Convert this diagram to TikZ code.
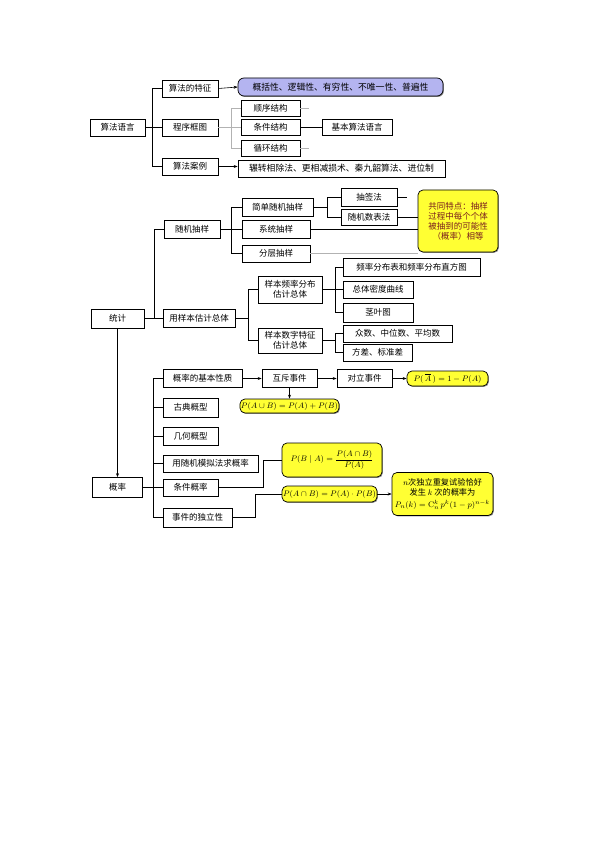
\documentclass[tikz,border=0pt]{standalone}
\usepackage[no-math]{fontspec}
\setmainfont{Noto Sans CJK SC}
\usetikzlibrary{shadows,arrows.meta}
\definecolor{ylw}{HTML}{FFFF33}
\definecolor{lav}{HTML}{B4B4F0}
\definecolor{dred}{HTML}{7A1E1E}
\begin{document}
\begin{tikzpicture}[x=1pt,y=-1pt,
  bx/.style={draw=black, line width=0.7pt, fill=white, inner sep=1pt,
    font=\fontsize{8.5}{10}\selectfont, align=center,
    drop shadow={shadow xshift=0.9pt, shadow yshift=-0.9pt, fill=black!45, opacity=1}},
  yb/.style={bx, fill=ylw, rounded corners=5pt},
  pb/.style={bx, fill=lav, rounded corners=6pt},
  ln/.style={line width=0.6pt, draw=black},
  gl/.style={line width=0.6pt, draw=gray!60},
  ar/.style={ln, -{Stealth[length=4pt,width=3pt]}}]
\fill[white] (0,0) rectangle (595,842);
\useasboundingbox (0,0) rectangle (595,842);

% ---------- section 1: algorithm ----------
\node[bx, minimum width=55pt, minimum height=17pt] (alg) at (117.5,127.5) {算法语言};
\node[bx, minimum width=56pt, minimum height=17pt] (feat) at (190,88.5) {算法的特征};
\node[pb, minimum width=205pt, minimum height=18pt, font=\fontsize{8.8}{10}\selectfont] (featv) at (340.5,87) {概括性、逻辑性、有穷性、不唯一性、普遍性};
\node[bx, minimum width=56pt, minimum height=17pt] (flow) at (190,127.5) {程序框图};
\node[bx, minimum width=59pt, minimum height=16pt] (seq) at (270.5,108) {顺序结构};
\node[bx, minimum width=59pt, minimum height=16pt] (cond) at (270.5,127.5) {条件结构};
\node[bx, minimum width=59pt, minimum height=16pt] (loop) at (270.5,148) {循环结构};
\node[bx, minimum width=70pt, minimum height=16pt] (basic) at (357,127.5) {基本算法语言};
\node[bx, minimum width=56pt, minimum height=17pt] (case) at (190,166.5) {算法案例};
\node[bx, minimum width=207pt, minimum height=17pt, font=\fontsize{8.8}{10}\selectfont] (casev) at (341.5,168.5) {辗转相除法、更相减损术、秦九韶算法、进位制};

\coordinate (ja) at (152,127.5);
\draw[ln] (alg.east) -- (ja);
\draw[ln] (feat.west) -| (ja);
\draw[ln] (case.west) -| (ja);
\draw[ln] (flow.west) -- (ja);
\draw[ar] (feat.east) -- (featv.west);
\draw[ar] (case.east) -- (case.east -| casev.west);

\coordinate (jf) at (231,127.5);
\draw[gl] (flow.east) -- (jf);
\draw[gl] (seq.west) -| (jf);
\draw[gl] (loop.west) -| (jf);
\draw[gl] (cond.west) -- (jf);
\draw[ln] (cond.east) -- (basic.west);
\coordinate (s1) at (309,108);
\coordinate (s2) at (309,148);
\draw[gl] (seq.east) -- (s1);
\draw[gl] (loop.east) -- (s2);

% ---------- section 2: statistics ----------
\node[bx, minimum width=53pt, minimum height=19pt] (stat) at (117.5,318.5) {统计};
\node[bx, minimum width=56pt, minimum height=18pt] (samp) at (192,229) {随机抽样};
\node[bx, minimum width=72pt, minimum height=18pt] (est) at (199,318.5) {用样本估计总体};
\node[bx, minimum width=71pt, minimum height=18pt] (srs) at (277.5,207) {简单随机抽样};
\node[bx, minimum width=68pt, minimum height=18pt] (sys) at (276,229) {系统抽样};
\node[bx, minimum width=68pt, minimum height=17pt] (str) at (276,253.5) {分层抽样};
\node[bx, minimum width=56pt, minimum height=18pt] (lot) at (369,197) {抽签法};
\node[bx, minimum width=56pt, minimum height=16pt] (rnt) at (369,217) {随机数表法};
\node[yb, minimum width=80pt, minimum height=62pt, text=dred] (yel) at (458,221) {共同特点：抽样\\过程中每个个体\\被抽到的可能性\\（概率）相等};

\coordinate (js) at (154,318.5);
\draw[ln] (stat.east) -- (js);
\draw[ln] (samp.west) -| (js);
\draw[ln] (est.west) -- (js);
\coordinate (jr) at (231,229);
\draw[ln] (samp.east) -- (jr);
\draw[ln] (srs.west) -| (jr);
\draw[ln] (str.west) -| (jr);
\draw[ln] (sys.west) -- (jr);
\coordinate (jl) at (327,207);
\draw[ln] (srs.east) -- (jl);
\draw[ln] (lot.west) -| (jl);
\draw[ln] (rnt.west) -| (jl);
\coordinate (s3) at (407,197);
\draw[ln] (lot.east) -- (s3);
\draw[ln] (rnt.east) -- (rnt.east -| yel.west);
\draw[ln] (sys.east) -- (sys.east -| yel.west);
\draw[gl] (str.east) -- (str.east -| yel.west);

\node[bx, minimum width=64pt, minimum height=27pt] (freq) at (290,289.5) {样本频率分布\\估计总体};
\node[bx, minimum width=64pt, minimum height=25pt] (num) at (290,340.5) {样本数字特征\\估计总体};
\node[bx, minimum width=137pt, minimum height=18pt] (hist) at (411.5,267) {频率分布表和频率分布直方图};
\node[bx, minimum width=70pt, minimum height=17pt] (dens) at (378,289.5) {总体密度曲线};
\node[bx, minimum width=70pt, minimum height=19pt] (stem) at (378,312.5) {茎叶图};
\node[bx, minimum width=109pt, minimum height=17pt] (mode) at (397.5,333.5) {众数、中位数、平均数};
\node[bx, minimum width=69pt, minimum height=17pt] (var) at (377.5,352.5) {方差、标准差};

\coordinate (je) at (248,318.5);
\draw[ln] (est.east) -- (je);
\draw[ln] (freq.west) -| (je);
\draw[ln] (num.west) -| (je);
\coordinate (jq) at (335,289.5);
\draw[ln] (freq.east) -- (jq);
\draw[ln] (hist.west) -| (jq);
\draw[ln] (stem.west) -| (jq);
\draw[ln] (dens.west) -- (jq);
\coordinate (jn) at (335,340.5);
\draw[ln] (num.east) -- (jn);
\draw[ln] (mode.west) -| (jn);
\draw[ln] (var.west) -| (jn);

% ---------- section 3: probability ----------
\node[bx, minimum width=50pt, minimum height=20pt] (prob) at (117.5,487.5) {概率};
\draw[ar] (stat.south) -- (prob.north);

\node[bx, minimum width=79pt, minimum height=18pt] (bp) at (202.5,378.5) {概率的基本性质};
\node[bx, minimum width=55pt, minimum height=19pt] (cl) at (190.5,407.5) {古典概型};
\node[bx, minimum width=55pt, minimum height=18pt] (geo) at (190.5,436) {几何概型};
\node[bx, minimum width=95pt, minimum height=17pt] (sim) at (210.5,463.5) {用随机模拟法求概率};
\node[bx, minimum width=55pt, minimum height=17pt] (cp) at (190.5,487.5) {条件概率};
\node[bx, minimum width=69pt, minimum height=19pt] (ind) at (197.5,517.5) {事件的独立性};

\coordinate (jp) at (153,487.5);
\draw[ln] (prob.east) -- (jp);
\draw[ln] (bp.west) -| (jp);
\draw[ln] (cl.west) -| (jp);
\draw[ln] (geo.west) -| (jp);
\draw[ln] (sim.west) -| (jp);
\draw[ln] (ind.west) -| (jp);
\draw[ln] (cp.west) -- (jp);

\node[bx, minimum width=55pt, minimum height=18pt] (me) at (289.5,378.5) {互斥事件};
\node[bx, minimum width=55pt, minimum height=18pt] (op) at (364.5,378.5) {对立事件};
\node[yb, minimum width=81pt, minimum height=15pt] (opf) at (447.5,378.5) {$P(\,\overline{A}\,)=1-P(A)$};
\node[yb, minimum width=95pt, minimum height=14pt] (mef) at (289.5,406) {$P(A\cup B)=P(A)+P(B)$};
\node[yb, minimum width=100pt, minimum height=34pt] (cpf) at (332,460) {$\displaystyle P(B\mid A)=\frac{P(A\cap B)}{P(A)}$};
\node[yb, minimum width=95pt, minimum height=16pt] (indf) at (329.5,494) {$P(A\cap B)=P(A)\cdot P(B)$};
\node[yb, minimum width=101pt, minimum height=43pt, font=\fontsize{8.2}{9.5}\selectfont] (bern) at (442.5,494) {$n$次独立重复试验恰好\\发生 $k$ 次的概率为\\[2.5pt]$P_n(k)=\mathrm{C}_n^k\,p^k(1-p)^{n-k}$};

\draw[ar] (bp.east) -- (me.west);
\draw[ar] (me.east) -- (op.west);
\draw[ar] (op.east) -- (opf.west);
\draw[ar] (me.south) -- (mef.north);
\coordinate (cc) at (263,487.5);
\draw[ln] (cp.east) -- (cc) |- (cpf.west);
\coordinate (ic) at (255,517.5);
\draw[ln] (ind.east) -- (ic) |- (indf.west);
\draw[ar] (indf.east) -- (bern.west);
\end{tikzpicture}
\end{document}
